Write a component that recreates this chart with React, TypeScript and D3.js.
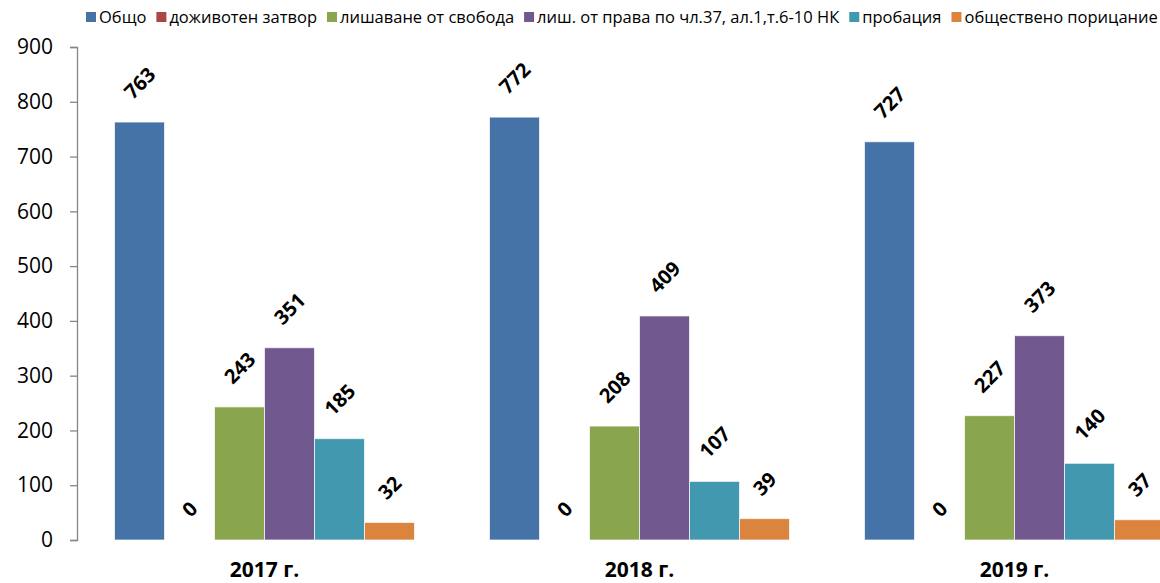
import * as d3 from "d3";
import { useEffect, useRef } from "react";

const years = ["2017 г.", "2018 г.", "2019 г."];
const seriesNames = [
	"Общо",
	"доживотен затвор",
	"лишаване от свобода",
	"лиш. от права по чл.37, ал.1,т.6-10 НК",
	"пробация",
	"обществено порицание",
];
const seriesColors = ["#4572A7", "#AA4643", "#89A54E", "#71588F", "#4198AF", "#DB843D"];
// values per series, in year order
const obshto = [763, 772, 727];
const dozhivoten = [0, 0, 0];
const lishavane = [243, 208, 227];
const lishOtPrava = [351, 409, 373];
const probacia = [185, 107, 140];
const poricanie = [32, 39, 37];
const seriesValues = [obshto, dozhivoten, lishavane, lishOtPrava, probacia, poricanie];
const yTicks = [0, 100, 200, 300, 400, 500, 600, 700, 800, 900];

const FONT = "'Open Sans', sans-serif";

export default function App() {
	const ref = useRef<SVGSVGElement | null>(null);

	useEffect(() => {
		document.body.style.margin = "0";
		if (!ref.current) return;
		const svg = d3.select(ref.current);
		svg.selectAll("*").remove();

		const axisX = 77;
		const top = 47;
		const bottom = 540;

		const y = d3.scaleLinear().domain([0, 900]).range([bottom, top]);
		const x0 = d3
			.scaleBand<string>()
			.domain(years)
			.range([axisX, axisX + 1125])
			.paddingInner(0.2)
			.paddingOuter(0.1);
		const x1 = d3
			.scaleBand<string>()
			.domain(seriesNames)
			.range([0, x0.bandwidth()]);

		// y axis
		const yAxis = svg
			.append("g")
			.attr("transform", `translate(${axisX},0)`)
			.call(d3.axisLeft(y).tickValues(yTicks).tickSize(7).tickPadding(17));
		yAxis.select(".domain").attr("stroke", "#868686").attr("stroke-width", 1.3);
		yAxis.selectAll(".tick line").attr("stroke", "#868686").attr("stroke-width", 1.3);
		yAxis
			.selectAll(".tick text")
			.attr("fill", "#000")
			.style("font-family", FONT)
			.style("font-size", "21px");

		// bars
		const groups = svg
			.append("g")
			.selectAll("g")
			.data(years)
			.enter()
			.append("g")
			.attr("transform", (d) => `translate(${x0(d)},0)`);

		seriesNames.forEach((name, si) => {
			groups
				.append("rect")
				.attr("x", x1(name)!)
				.attr("width", x1.bandwidth())
				.attr("y", (_d, i) => y(seriesValues[si][i]))
				.attr("height", (_d, i) => bottom - y(seriesValues[si][i]))
				.attr("fill", seriesColors[si])
				.attr("stroke", "rgba(255,255,255,0.7)")
				.attr("stroke-width", 1);

			groups
				.append("text")
				.attr("transform", (_d, i) => {
					const v = seriesValues[si][i];
					const w = String(v).length * 11.5;
					const cx = x1(name)! + x1.bandwidth() / 2;
					const cy = y(v) - 27 - w * 0.354;
					return `translate(${cx},${cy}) rotate(-45)`;
				})
				.attr("text-anchor", "middle")
				.attr("dominant-baseline", "central")
				.style("font-family", FONT)
				.style("font-size", "20px")
				.style("font-weight", "bold")
				.attr("fill", "#000")
				.text((_d, i) => String(seriesValues[si][i]));
		});

		// category labels
		svg
			.append("g")
			.selectAll("text")
			.data(years)
			.enter()
			.append("text")
			.attr("x", (d) => x0(d)! + x0.bandwidth() / 2)
			.attr("y", 577)
			.attr("text-anchor", "middle")
			.style("font-family", FONT)
			.style("font-size", "21px")
			.style("font-weight", "bold")
			.attr("fill", "#000")
			.text((d) => d);

		// legend
		const legend = svg.append("g").attr("transform", "translate(86,0)");
		let lx = 0;
		seriesNames.forEach((name, i) => {
			legend
				.append("rect")
				.attr("x", lx)
				.attr("y", 12)
				.attr("width", 10)
				.attr("height", 10)
				.attr("fill", seriesColors[i]);
			const t = legend
				.append("text")
				.attr("x", lx + 13)
				.attr("y", 23)
				.style("font-family", FONT)
				.style("font-size", "16.5px")
				.attr("fill", "#000")
				.text(name);
			const tw = (t.node() as SVGTextElement).getComputedTextLength();
			lx += 13 + tw + 10;
		});
	}, []);

	return (
		<svg
			ref={ref}
			width={1160}
			height={583}
			style={{ display: "block", background: "#fff" }}
		/>
	);
}
